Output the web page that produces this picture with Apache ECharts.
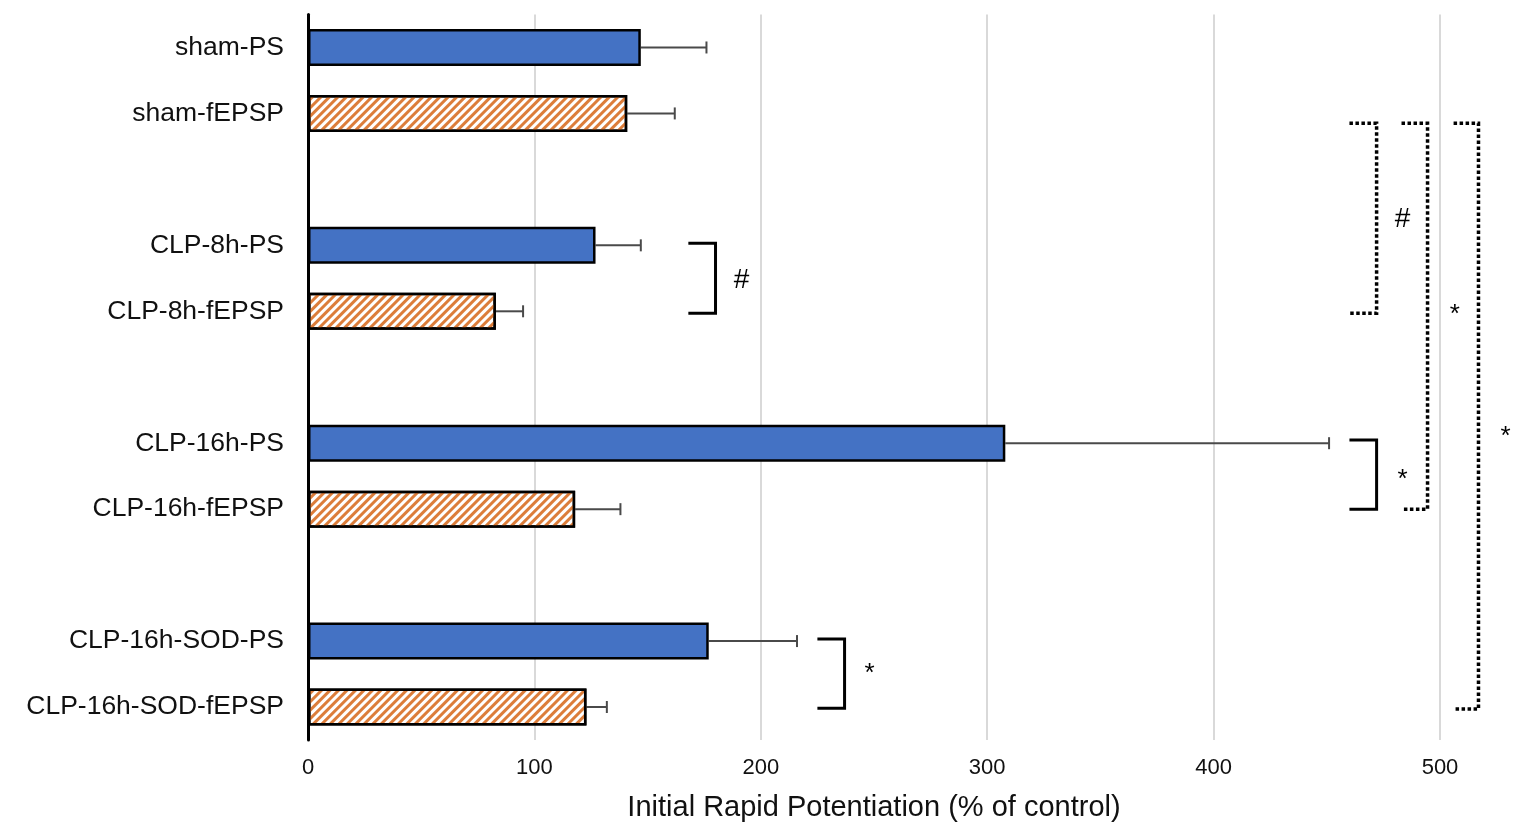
<!DOCTYPE html>
<html>
<head>
<meta charset="utf-8">
<script src="https://cdn.jsdelivr.net/npm/echarts@6/dist/echarts.min.js"></script>
<style>
  html, body { margin: 0; padding: 0; background: #fff; }
  #main { width: 1535px; height: 837px; }
</style>
</head>
<body>
<div id="main"></div>
<script>
// categories, blank rows separate the groups
const categories = ['sham-PS', 'sham-fEPSP', ' ', 'CLP-8h-PS', 'CLP-8h-fEPSP', '  ',
  'CLP-16h-PS', 'CLP-16h-fEPSP', '   ', 'CLP-16h-SOD-PS', 'CLP-16h-SOD-fEPSP'];
const means = [147, 141, null, 127, 83, null, 308, 118, null, 177, 123];
const errTop = [176, 162, null, 147, 95, null, 451, 138, null, 216, 132];
const kinds = ['PS', 'fEPSP', null, 'PS', 'fEPSP', null, 'PS', 'fEPSP', null, 'PS', 'fEPSP'];
const xTicks = [0, 100, 200, 300, 400, 500];

// significance brackets: [x start, x end, row top, row bottom, dotted?]
const brackets = [
  [168, 180, 2.97, 4.03, 0],
  [225, 237, 8.97, 10.02, 0],
  [460, 472, 5.95, 7.0, 0],
  [460, 472, 1.15, 4.03, 1],
  [483, 494.5, 1.15, 7.0, 1],
  [506, 517, 1.15, 10.03, 1]
];
// significance marks: [x, row, text]
const marks = [
  [191.5, 3.53, '#'],
  [248, 9.5, '*'],
  [483.5, 2.6, '#'],
  [483.5, 6.55, '*'],
  [506.5, 4.05, '*'],
  [529, 5.9, '*']
];

const chart = echarts.init(document.getElementById('main'));

const barData = means.map(function (v, i) {
  if (v == null) return '-';
  if (kinds[i] === 'PS') {
    return { value: v, itemStyle: { color: '#4472C4' } };
  }
  return {
    value: v,
    itemStyle: {
      color: '#ffffff',
      decal: {
        symbol: 'rect',
        symbolSize: 1,
        color: '#DC7D3A',
        dashArrayX: [1, 0],
        dashArrayY: [2.5, 3],
        rotation: -Math.PI / 4
      }
    }
  };
});

const errData = [];
for (let i = 0; i < means.length; i++) {
  if (means[i] != null) errData.push([means[i], i, errTop[i]]);
}

const option = {
  animation: false,
  grid: { left: 308, right: 95, top: 14.5, bottom: 97 },
  xAxis: {
    type: 'value',
    min: 0,
    max: 500,
    interval: 100,
    name: 'Initial Rapid Potentiation (% of control)',
    nameLocation: 'middle',
    nameGap: 53,
    nameTextStyle: { fontFamily: 'Liberation Sans', fontSize: 29, color: '#111' },
    axisLine: { show: false },
    axisTick: { show: false },
    axisLabel: {
      fontFamily: 'Liberation Sans',
      fontSize: 22, color: '#111', margin: 17,
      formatter: function (v) { return xTicks.indexOf(v) >= 0 ? String(v) : ''; }
    },
    splitLine: { lineStyle: { color: '#d9d9d9', width: 2 } }
  },
  yAxis: [
    {
      type: 'category',
      data: categories,
      inverse: true,
      axisLine: { lineStyle: { color: '#000', width: 3 } },
      axisTick: { show: false },
      axisLabel: { fontFamily: 'Liberation Sans', fontSize: 26.5, color: '#111', margin: 24 }
    },
    {
      // hidden helper axis so brackets can sit between rows
      type: 'value',
      min: -0.5,
      max: 10.5,
      inverse: true,
      show: false
    }
  ],
  series: [
    {
      type: 'bar',
      data: barData,
      barWidth: '56%',
      itemStyle: { borderColor: '#000', borderWidth: 2.5 },
      z: 3
    },
    {
      type: 'custom',
      data: errData,
      z: 2,
      renderItem: function (params, api) {
        const p0 = api.coord([api.value(0), api.value(1)]);
        const p1 = api.coord([api.value(2), api.value(1)]);
        const st = { stroke: '#4a4a4a', lineWidth: 2 };
        return {
          type: 'group',
          children: [
            { type: 'line', shape: { x1: p0[0], y1: p0[1], x2: p1[0], y2: p1[1] }, style: st },
            { type: 'line', shape: { x1: p1[0], y1: p1[1] - 6, x2: p1[0], y2: p1[1] + 6 }, style: st }
          ]
        };
      }
    },
    {
      type: 'custom',
      yAxisIndex: 1,
      data: brackets,
      clip: false,
      z: 4,
      renderItem: function (params, api) {
        const a = api.coord([api.value(0), api.value(2)]);
        const b = api.coord([api.value(1), api.value(2)]);
        const c = api.coord([api.value(1), api.value(3)]);
        const d = api.coord([api.value(0), api.value(3)]);
        const dotted = api.value(4) === 1;
        return {
          type: 'polyline',
          shape: { points: [a, b, c, d] },
          style: {
            stroke: '#000',
            fill: null,
            lineWidth: dotted ? 3.5 : 3,
            lineDash: dotted ? [3.5, 2.5] : null
          }
        };
      }
    },
    {
      type: 'custom',
      yAxisIndex: 1,
      data: marks,
      clip: false,
      z: 4,
      renderItem: function (params, api) {
        const p = api.coord([api.value(0), api.value(1)]);
        const t = marks[params.dataIndex][2];
        return {
          type: 'text',
          x: p[0],
          y: p[1],
          style: {
            text: t,
            fontFamily: 'Liberation Sans',
            fontSize: t === '#' ? 28 : 26,
            fill: '#000',
            align: 'center',
            verticalAlign: 'middle'
          }
        };
      }
    }
  ]
};

chart.setOption(option);
</script>
</body>
</html>
